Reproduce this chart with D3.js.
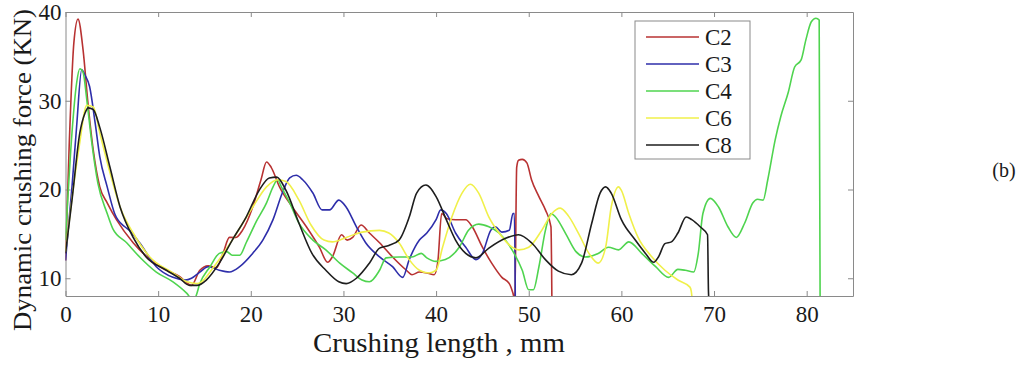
<!DOCTYPE html>
<html>
<head>
<meta charset="UTF-8">
<script src="https://d3js.org/d3.v7.min.js"></script>
</head>
<body style="margin:0">
<script>
// series: [crushing length (mm), force (KN)]
const c2 = [[0,12],[0.4,25],[0.9,36.5],[1.35,39.2],[1.9,35.7],[2.4,30],[3.0,24.4],[3.7,20.3],[4.5,18.5],[5.5,16.6],[7.3,14.0],[10.2,11.3],[12.3,10.2],[13.6,9.2],[14.5,10.9],[15.4,11.4],[16.3,11.2],[17,12.8],[17.7,14.6],[18.4,14.6],[19.1,15.4],[20.2,18.0],[21.1,21.1],[21.7,23.1],[22.2,22.5],[23.1,20.3],[24.5,18.0],[26.0,15.8],[27.4,13.5],[28.3,11.8],[28.8,12.4],[29.8,14.9],[30.4,14.3],[31,14.6],[31.9,16.0],[32.8,15.1],[33.9,14.0],[35.3,12.4],[36.8,10.9],[37.4,10.4],[38.2,10.7],[39.0,10.6],[39.8,10.4],[40.2,12],[40.6,17.3],[41.2,16.7],[42.1,16.6],[43.2,16.6],[43.9,15.8],[45,13.5],[46.0,11.7],[47.1,10.1],[47.9,9.4],[48.3,8.3],[48.5,7.5],[48.7,22.5],[48.9,23.3],[49.3,23.4],[49.8,23.0],[50.3,21.1],[51.1,19.2],[51.8,17.7],[52.4,15.8],[52.5,7.5]];
const c3 = [[0,12],[0.7,20.3],[1.2,27.1],[1.75,33.5],[2.1,32.9],[2.6,31.6],[3.2,27.5],[3.7,23.7],[4.5,20.3],[5.3,17.3],[6.4,15.8],[6.9,15.4],[8.0,14.0],[9.8,11.3],[11.6,10.1],[12.9,9.8],[13.6,10.0],[14.5,10.7],[15.4,11.3],[16.6,10.9],[17.7,10.7],[18.8,11.3],[20.2,12.8],[21.3,14.3],[22.4,16.6],[23.4,19.6],[24.2,21.3],[24.9,21.6],[25.6,21.1],[26.7,19.6],[27.7,17.7],[28.5,17.7],[29.5,18.8],[30.3,18.0],[31.4,15.8],[32.4,14.0],[33.9,12.4],[35.3,11.3],[36.4,10.1],[37.1,12.1],[38.2,14.3],[39.0,15.1],[40.0,16.6],[40.5,17.7],[41.1,17.3],[42.1,15.1],[43.2,13.5],[44.3,12.1],[45.0,12.8],[45.9,15.4],[46.4,15.8],[47.1,15.2],[47.9,15.4],[48.3,17.3],[48.45,17.3],[48.55,7.5]];
const c4 = [[0,14.3],[0.7,26.4],[1.2,32],[1.55,33.6],[1.9,33.2],[2.3,30.1],[2.8,25.6],[3.5,20.7],[4.5,17.3],[5.1,15.6],[6.6,14.0],[8.0,12.4],[9.8,10.7],[11.6,9.6],[13.1,8.3],[13.7,7.6],[14.0,7.8],[14.5,9.4],[15.6,11.3],[16.6,12.8],[17.4,13.0],[18.0,12.6],[18.8,12.6],[19.5,14.0],[20.6,16.4],[21.7,18.5],[22.4,20.3],[22.9,21.1],[23.3,20.3],[24.2,18.5],[25.2,16.2],[26.7,14.3],[28.1,13.2],[29.6,11.7],[31,10.6],[32.0,9.8],[32.8,9.6],[33.9,10.9],[34.6,12.3],[36.0,12.4],[37.4,12.4],[38.4,12.8],[39.0,12.3],[40.0,11.9],[41,12.1],[42.5,13.5],[43.5,15.4],[44.6,16.1],[45.7,15.8],[46.8,15.1],[48.2,13.2],[49.3,10.9],[50.0,8.7],[50.5,8.7],[51.1,11.3],[51.8,15.4],[52.4,17.3],[52.9,16.9],[54.0,15.0],[55.1,13.0],[56.1,12.4],[57.5,12.8],[58.6,13.5],[59.7,13.2],[60.8,14.1],[62.2,12.8],[63.7,11.3],[65.1,10.1],[66.1,11.0],[66.9,10.9],[67.8,10.7],[68.3,12.8],[68.8,17.3],[69.6,19.0],[70.5,18.0],[71.5,15.8],[72.4,14.6],[73.3,16.2],[74.2,18.5],[74.7,18.9],[75.3,18.8],[75.8,21.1],[76.6,25.6],[77.2,28.2],[78.0,30.9],[78.7,33.8],[79.4,34.6],[79.9,36.8],[80.5,38.9],[81.0,39.3],[81.35,39.1],[81.45,7.5]];
const c6 = [[0,13],[0.7,19],[1.5,25],[2.3,29.5],[3.0,29.3],[3.7,26.4],[4.8,21.9],[5.9,18.0],[7.3,15.1],[9.1,12.4],[11.6,10.6],[13.1,9.6],[14.2,9.4],[16.3,11.7],[18.0,14.3],[20.2,18.0],[21.7,20.3],[22.9,21.1],[23.8,20.9],[25.2,18.8],[26.5,16.0],[27.9,14.3],[28.8,14.1],[30.3,14.6],[32.0,15.2],[33.9,15.4],[34.9,15.1],[36.0,14.0],[37.1,12.1],[38.2,10.9],[39.2,10.6],[40,10.9],[40.7,13.5],[41.7,16.9],[42.8,19.6],[43.7,20.6],[44.6,19.6],[45.7,16.9],[46.8,15.1],[48.2,13.5],[48.9,13.2],[50.0,13.5],[51.4,15.4],[52.5,17.3],[53.4,17.9],[54.3,17.0],[55.4,15.0],[56.5,12.8],[57.5,11.7],[58.3,13.5],[58.9,18.0],[59.7,20.3],[60.0,19.9],[60.8,17.3],[61.8,14.6],[63.3,12.4],[64.7,10.9],[66.1,9.8],[67.4,9.0],[67.55,8.5],[67.65,7.5]];
const c8 = [[0,12.8],[0.7,18.8],[1.55,26.4],[2.1,28.6],[2.45,29.2],[3.0,29.0],[3.7,27.0],[4.8,22.5],[5.9,18.0],[7.3,14.6],[8.7,12.4],[10.9,10.9],[12.3,10.0],[13.4,9.2],[14.2,9.2],[15.2,9.8],[16.6,11.7],[18.0,14.3],[19.5,16.9],[20.9,19.9],[22.0,21.3],[22.8,21.4],[23.8,19.9],[25.2,16.2],[26.6,12.8],[28.1,10.9],[29.5,9.6],[30.3,9.4],[31.4,10.0],[32.8,11.7],[33.9,13.4],[34.9,13.7],[36.0,14.3],[37.1,16.9],[37.9,19.6],[38.9,20.5],[40.0,19.2],[41.1,16.6],[42.1,14.3],[43.2,12.8],[44.3,12.3],[45.7,13.4],[47.5,14.5],[48.9,14.9],[50.3,14.0],[51.8,12.1],[53.2,10.8],[54.6,10.4],[55.7,11.7],[56.8,16.2],[57.7,19.6],[58.3,20.3],[58.9,19.6],[60.0,16.6],[61.5,14.3],[62.6,12.8],[63.5,11.8],[64.0,12.4],[64.7,13.9],[65.4,14.1],[66.1,15.1],[67.0,16.9],[67.6,16.6],[68.5,15.8],[69.3,14.9],[69.4,8.5],[69.45,7.5]];

const seriesNames = ['C2', 'C3', 'C4', 'C6', 'C8'];
const seriesData = [c2, c3, c4, c6, c8];
const seriesColors = ['#b83232', '#2e2eaa', '#4fd44f', '#f0f04a', '#1e1e1e'];
const xTicks = [0, 10, 20, 30, 40, 50, 60, 70, 80];
const yTicks = [10, 20, 30, 40];

const serif = '"Liberation Serif", "Times New Roman", "Noto Serif"';
const w = 1029, h = 367;
const padL = 65.5, padR = 853, padT = 12, padB = 296;

const svg = d3.select('body').append('svg')
    .attr('width', w)
    .attr('height', h)
    .style('font-family', serif)
    .style('background', '#fff');

const x = d3.scaleLinear().domain([0, 85]).range([padL, padR]);
const y = d3.scaleLinear().domain([8, 40]).range([padB, padT]);

svg.append('clipPath').attr('id', 'plot-clip')
  .append('rect')
    .attr('x', padL).attr('y', padT)
    .attr('width', padR - padL).attr('height', padB - padT);

// frame: inward ticks on all four sides
svg.append('g').attr('class', 'frame')
    .attr('transform', 'translate(0,' + padB + ')')
    .call(d3.axisBottom(x).tickValues(xTicks).tickSizeInner(-5).tickSizeOuter(0).tickPadding(10));
svg.append('g').attr('class', 'frame')
    .attr('transform', 'translate(0,' + padT + ')')
    .call(d3.axisTop(x).tickValues(xTicks).tickSizeInner(-5).tickSizeOuter(0).tickFormat(''));
svg.append('g').attr('class', 'frame')
    .attr('transform', 'translate(' + padL + ',0)')
    .call(d3.axisLeft(y).tickValues(yTicks).tickSizeInner(-5).tickSizeOuter(0).tickPadding(4));
svg.append('g').attr('class', 'frame')
    .attr('transform', 'translate(' + padR + ',0)')
    .call(d3.axisRight(y).tickValues(yTicks).tickSizeInner(-5).tickSizeOuter(0).tickFormat(''));

svg.selectAll('.frame').attr('font-family', null).attr('font-size', null);
svg.selectAll('.frame .domain, .frame line').attr('stroke', '#8a8a8a');
svg.selectAll('.frame text')
    .style('font-family', serif)
    .style('font-size', '23px')
    .style('fill', '#1a1a1a');

// curves
const line = d3.line()
    .x(d => x(d[0]))
    .y(d => y(d[1]))
    .curve(d3.curveMonotoneX);

svg.append('g').attr('clip-path', 'url(#plot-clip)')
  .selectAll('path')
  .data(seriesData)
  .enter().append('path')
    .attr('d', line)
    .attr('fill', 'none')
    .attr('stroke', (d, i) => seriesColors[i])
    .attr('stroke-width', 1.6)
    .attr('stroke-linejoin', 'round');

// legend
const legend = svg.append('g').attr('id', 'legend');
legend.append('rect')
    .attr('x', 635).attr('y', 21)
    .attr('width', 115).attr('height', 138)
    .attr('fill', '#fff')
    .attr('stroke', '#8a8a8a');
legend.selectAll('line')
  .data(seriesNames)
  .enter().append('line')
    .attr('x1', 646).attr('x2', 699)
    .attr('y1', (d, i) => 37 + i * 27)
    .attr('y2', (d, i) => 37 + i * 27)
    .attr('stroke', (d, i) => seriesColors[i])
    .attr('stroke-width', 1.6);
legend.selectAll('text')
  .data(seriesNames)
  .enter().append('text')
    .style('font-family', serif)
    .style('font-size', '23px')
    .style('fill', '#1a1a1a')
    .attr('x', 705)
    .attr('y', (d, i) => 37 + i * 27)
    .attr('dy', '0.35em')
    .text(d => d);

// axis titles
svg.append('text')
    .style('font-family', serif)
    .style('font-size', '26px')
    .style('fill', '#1a1a1a')
    .attr('transform', 'translate(31,170) rotate(-90)')
    .attr('text-anchor', 'middle')
    .attr('textLength', 322)
    .attr('lengthAdjust', 'spacingAndGlyphs')
    .text('Dynamic crushing force (KN)');

svg.append('text')
    .style('font-family', serif)
    .style('font-size', '27px')
    .style('fill', '#1a1a1a')
    .attr('x', 439)
    .attr('y', 352)
    .attr('text-anchor', 'middle')
    .attr('textLength', 252)
    .attr('lengthAdjust', 'spacingAndGlyphs')
    .text('Crushing length , mm');

svg.append('text')
    .style('font-family', serif)
    .style('font-size', '20px')
    .style('fill', '#1a1a1a')
    .attr('x', 1004)
    .attr('y', 177)
    .attr('text-anchor', 'middle')
    .text('(b)');
</script>
</body>
</html>
